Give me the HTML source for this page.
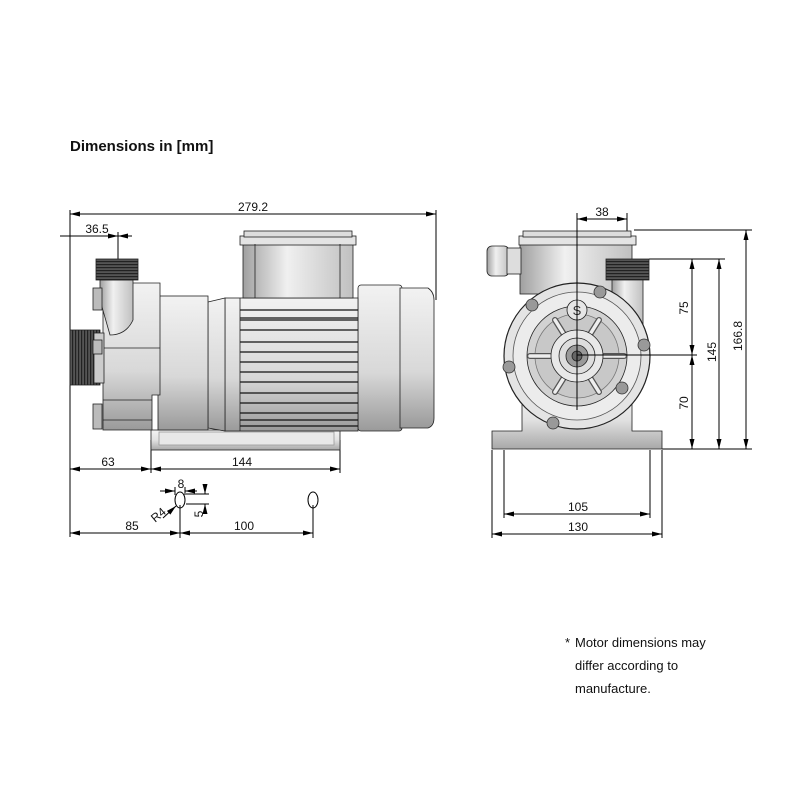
<!DOCTYPE html>
<html><head><meta charset="utf-8"><style>
html,body{margin:0;padding:0;background:#fff;}
svg{display:block;}
text{font-family:"Liberation Sans",sans-serif;}
</style></head><body>
<svg width="800" height="800" viewBox="0 0 800 800" xmlns="http://www.w3.org/2000/svg">
<defs>
<linearGradient id="gv" x1="0" y1="0" x2="0" y2="1">
<stop offset="0" stop-color="#f4f4f4"/><stop offset="0.5" stop-color="#e2e2e2"/><stop offset="1" stop-color="#a8a8a8"/></linearGradient>
<linearGradient id="gh" x1="0" y1="0" x2="1" y2="0">
<stop offset="0" stop-color="#a0a0a0"/><stop offset="0.4" stop-color="#f0f0f0"/><stop offset="1" stop-color="#c0c0c0"/></linearGradient>
<linearGradient id="gm" x1="0" y1="0" x2="0" y2="1">
<stop offset="0" stop-color="#f2f2f2"/><stop offset="0.6" stop-color="#d8d8d8"/><stop offset="1" stop-color="#9a9a9a"/></linearGradient>
<marker id="a" viewBox="0 0 10 6" refX="10" refY="3" markerWidth="10" markerHeight="6" orient="auto-start-reverse" markerUnits="userSpaceOnUse"><path d="M0,0.5 L10,3 L0,5.5z" fill="#000"/></marker>
<pattern id="th" width="3" height="3" patternUnits="userSpaceOnUse"><rect width="3" height="3" fill="#555"/><rect width="3" height="1.2" fill="#222"/></pattern>
<pattern id="tv" width="3" height="3" patternUnits="userSpaceOnUse"><rect width="3" height="3" fill="#555"/><rect width="1.2" height="3" fill="#222"/></pattern>
</defs>

<text x="70" y="151" font-size="15" font-weight="bold" fill="#111">Dimensions in [mm]</text>

<g stroke="#000" stroke-width="1" fill="none">
<!-- left view dims -->
<line x1="70" y1="210" x2="70" y2="537"/>
<line x1="436" y1="210" x2="436" y2="300"/>
<line x1="70" y1="214" x2="436" y2="214" marker-start="url(#a)" marker-end="url(#a)"/>
<line x1="60" y1="236" x2="118" y2="236" marker-end="url(#a)"/>
<line x1="118" y1="236" x2="132" y2="236" marker-start="url(#a)"/>
<line x1="118" y1="232" x2="118" y2="262"/>
<line x1="151" y1="440" x2="151" y2="473"/>
<line x1="340" y1="440" x2="340" y2="473"/>
<line x1="70" y1="469" x2="151" y2="469" marker-start="url(#a)" marker-end="url(#a)"/>
<line x1="151" y1="469" x2="340" y2="469" marker-start="url(#a)" marker-end="url(#a)"/>
<line x1="180" y1="505" x2="180" y2="538"/>
<line x1="313" y1="505" x2="313" y2="538"/>
<line x1="70" y1="533" x2="180" y2="533" marker-start="url(#a)" marker-end="url(#a)"/>
<line x1="180" y1="533" x2="313" y2="533" marker-start="url(#a)" marker-end="url(#a)"/>
<ellipse cx="180" cy="500" rx="5" ry="8"/>
<ellipse cx="313" cy="500" rx="5" ry="8"/>
<line x1="160" y1="491" x2="175" y2="491" marker-end="url(#a)"/>
<line x1="185" y1="491" x2="197" y2="491" marker-start="url(#a)"/>
<line x1="175" y1="487" x2="175" y2="495"/>
<line x1="185" y1="487" x2="185" y2="495"/>
<line x1="186" y1="494" x2="209" y2="494"/>
<line x1="186" y1="504" x2="209" y2="504"/>
<line x1="205" y1="488" x2="205" y2="494" marker-end="url(#a)"/>
<line x1="205" y1="512" x2="205" y2="504" marker-end="url(#a)"/>
<line x1="163" y1="518" x2="176" y2="506" marker-end="url(#a)"/>
</g>
<g font-size="12" fill="#111" text-anchor="middle">
<text x="253" y="211">279.2</text>
<text x="97" y="233">36.5</text>
<text x="108" y="466">63</text>
<text x="242" y="466">144</text>
<text x="181" y="488">8</text>
<text x="132" y="530">85</text>
<text x="244" y="530">100</text>
<text transform="translate(203,514) rotate(-90)">5</text>
<text transform="translate(161,518) rotate(-40)">R4</text>
</g>

<!-- left view pump -->
<g stroke="#222" stroke-width="0.8">
<rect x="151" y="430" width="189" height="20" fill="url(#gv)"/>
<rect x="159" y="432" width="175" height="13" fill="#e8e8e8" stroke="#999"/>
<!-- fan cover -->
<rect x="358" y="285" width="44" height="146" rx="3" fill="url(#gm)"/>
<path d="M400,288 L428,288 Q434,292 434,300 L434,418 Q434,426 428,428 L400,428z" fill="url(#gm)"/>
<!-- motor -->
<rect x="225" y="298" width="133" height="133" fill="url(#gm)"/>
<g stroke="#111" stroke-width="1.2">
<line x1="240" y1="310" x2="358" y2="310"/><line x1="240" y1="318" x2="358" y2="318"/>
<line x1="240" y1="320" x2="358" y2="320"/><line x1="240" y1="330" x2="358" y2="330"/>
<line x1="240" y1="342" x2="358" y2="342"/><line x1="240" y1="352" x2="358" y2="352"/>
<line x1="240" y1="362" x2="358" y2="362"/><line x1="240" y1="372" x2="358" y2="372"/>
<line x1="240" y1="382" x2="358" y2="382"/><line x1="240" y1="393" x2="358" y2="393"/>
<line x1="240" y1="403" x2="358" y2="403"/><line x1="240" y1="413" x2="358" y2="413"/>
<line x1="240" y1="420" x2="358" y2="420"/><line x1="240" y1="426" x2="358" y2="426"/>
</g>
<line x1="240" y1="298" x2="240" y2="431"/>
<!-- terminal box -->
<rect x="243" y="244" width="110" height="54" fill="url(#gh)"/>
<rect x="240" y="236" width="116" height="9" fill="#e4e4e4"/>
<rect x="244" y="231" width="108" height="6" fill="#ddd"/>
<line x1="255" y1="244" x2="255" y2="298"/><line x1="340" y1="244" x2="340" y2="298"/>
<!-- neck -->
<path d="M208,302 L225,298 L225,431 L208,428z" fill="url(#gm)"/>
<!-- bracket -->
<rect x="158" y="296" width="50" height="134" fill="url(#gm)"/>
<!-- head -->
<path d="M103,283 L160,283 L160,395 L152,395 L152,430 L103,430z" fill="url(#gm)"/>
<line x1="103" y1="348" x2="160" y2="348"/>
<line x1="103" y1="400" x2="152" y2="400"/>
<line x1="103" y1="420" x2="152" y2="420"/>
<!-- top pipe -->
<path d="M100,280 L133,280 L133,320 Q126,335 110,335 L100,300z" fill="url(#gh)"/>
<rect x="96" y="259" width="42" height="21" fill="url(#th)"/>
<!-- outlet thread -->
<rect x="70" y="330" width="30" height="55" fill="url(#tv)"/>
<rect x="94" y="333" width="10" height="50" fill="#ccc"/>
<!-- bolts -->
<rect x="93" y="288" width="9" height="22" fill="#bbb"/>
<rect x="93" y="340" width="9" height="14" fill="#bbb"/>
<rect x="93" y="404" width="9" height="25" fill="#bbb"/>
</g>

<!-- right view dims -->
<g stroke="#000" stroke-width="1" fill="none">
<line x1="577" y1="213" x2="577" y2="410"/>
<line x1="627" y1="213" x2="627" y2="280"/>
<line x1="577" y1="219" x2="627" y2="219" marker-start="url(#a)" marker-end="url(#a)"/>
<line x1="634" y1="230" x2="752" y2="230"/>
<line x1="649" y1="259" x2="725" y2="259"/>
<line x1="577" y1="355" x2="697" y2="355"/>
<line x1="662" y1="449" x2="752" y2="449"/>
<line x1="692" y1="259" x2="692" y2="355" marker-start="url(#a)" marker-end="url(#a)"/>
<line x1="692" y1="355" x2="692" y2="449" marker-start="url(#a)" marker-end="url(#a)"/>
<line x1="719" y1="259" x2="719" y2="449" marker-start="url(#a)" marker-end="url(#a)"/>
<line x1="746" y1="230" x2="746" y2="449" marker-start="url(#a)" marker-end="url(#a)"/>
<line x1="492" y1="450" x2="492" y2="538"/>
<line x1="662" y1="450" x2="662" y2="538"/>
<line x1="504" y1="450" x2="504" y2="518"/>
<line x1="650" y1="450" x2="650" y2="518"/>
<line x1="504" y1="514" x2="650" y2="514" marker-start="url(#a)" marker-end="url(#a)"/>
<line x1="492" y1="534" x2="662" y2="534" marker-start="url(#a)" marker-end="url(#a)"/>
</g>
<g font-size="12" fill="#111" text-anchor="middle">
<text x="602" y="216">38</text>
<text x="578" y="511">105</text>
<text x="578" y="531">130</text>
<text transform="translate(688,308) rotate(-90)">75</text>
<text transform="translate(688,403) rotate(-90)">70</text>
<text transform="translate(716,352) rotate(-90)">145</text>
<text transform="translate(742,336) rotate(-90)">166.8</text>
</g>

<!-- right view pump -->
<g stroke="#222" stroke-width="0.8">
<path d="M492,431 L522,431 L522,390 L632,390 L632,431 L662,431 L662,449 L492,449z" fill="url(#gv)"/>
<rect x="520" y="244" width="112" height="50" fill="url(#gh)"/>
<rect x="519" y="236" width="117" height="9" fill="#e4e4e4"/>
<rect x="523" y="231" width="108" height="6" fill="#ddd"/>
<rect x="487" y="246" width="22" height="30" rx="5" fill="url(#gh)"/>
<rect x="507" y="248" width="14" height="26" fill="#ddd"/>
<rect x="612" y="278" width="31" height="55" fill="url(#gh)"/>
<rect x="606" y="259" width="43" height="21" fill="url(#th)"/>
<circle cx="577" cy="356" r="73" fill="#e4e4e4" stroke-width="1.2"/>
<circle cx="577" cy="356" r="64" fill="#ececec" stroke="#555"/>
<circle cx="577" cy="356" r="50" fill="#d2d2d2"/>
<circle cx="577" cy="356" r="42" fill="#c8c8c8" stroke="#777"/>
<g stroke="#555" stroke-width="6" stroke-linecap="round">
<line x1="555" y1="320" x2="565" y2="336"/><line x1="599" y1="320" x2="589" y2="336"/>
<line x1="530" y1="356" x2="550" y2="356"/><line x1="604" y1="356" x2="624" y2="356"/>
<line x1="555" y1="392" x2="565" y2="376"/><line x1="599" y1="392" x2="589" y2="376"/>
</g>
<g stroke="#eee" stroke-width="3.5" stroke-linecap="round">
<line x1="555" y1="320" x2="565" y2="336"/><line x1="599" y1="320" x2="589" y2="336"/>
<line x1="530" y1="356" x2="550" y2="356"/><line x1="604" y1="356" x2="624" y2="356"/>
<line x1="555" y1="392" x2="565" y2="376"/><line x1="599" y1="392" x2="589" y2="376"/>
</g>
<circle cx="577" cy="356" r="26" fill="#e8e8e8"/>
<circle cx="577" cy="356" r="18" fill="#ddd"/>
<circle cx="577" cy="356" r="11" fill="#999"/>
<circle cx="577" cy="356" r="5" fill="#666"/>
<circle cx="577" cy="310" r="10" fill="#e6e6e6"/>
<g fill="#999" stroke="#333">
<circle cx="532" cy="305" r="6"/><circle cx="600" cy="292" r="6"/>
<circle cx="644" cy="345" r="6"/><circle cx="509" cy="367" r="6"/>
<circle cx="622" cy="388" r="6"/><circle cx="553" cy="423" r="6"/>
</g>
</g>
<text x="577" y="315" font-size="13" text-anchor="middle" fill="#333">S</text>
<g stroke="#000" stroke-width="1"><line x1="577" y1="213" x2="577" y2="410"/><line x1="577" y1="355" x2="697" y2="355"/></g>

<g font-size="13" fill="#111">
<text x="565" y="647">*</text>
<text x="575" y="647">Motor dimensions may</text>
<text x="575" y="670">differ according to</text>
<text x="575" y="693">manufacture.</text>
</g>
</svg>
</body></html>
